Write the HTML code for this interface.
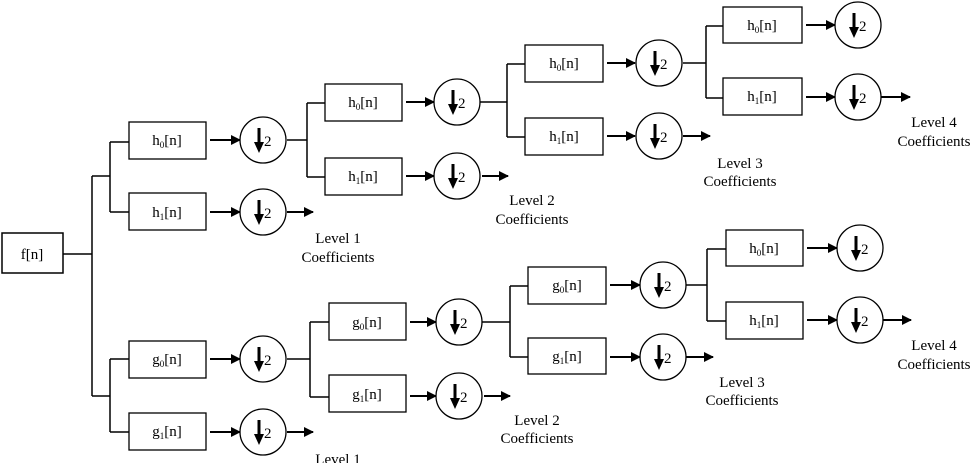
<!DOCTYPE html>
<html><head><meta charset="utf-8"><style>
html,body{margin:0;padding:0;background:#fff;}
svg{display:block;}
text{font-family:"Liberation Serif",serif;font-size:15px;fill:#000;}
</style></head><body>
<svg width="974" height="463" viewBox="0 0 974 463" xmlns="http://www.w3.org/2000/svg">
<defs>
<marker id="a" markerWidth="10" markerHeight="10" refX="9" refY="5" orient="auto" markerUnits="userSpaceOnUse">
<path d="M0,0 L10,5 L0,10 Z" fill="#000"/></marker>
<g id="dn"><circle r="23" fill="#fff" stroke="#000" stroke-width="1.3"/><path d="M-4,-12 V5" stroke="#000" stroke-width="3"/><path d="M-9,2 L-4,13 L1,2 Z" fill="#000"/><text x="1" y="6" font-size="16">2</text></g>
</defs>
<g stroke="#000" stroke-width="1.5" fill="none">
<rect x="2" y="233" width="61" height="40" fill="#fff"/>
<path d="M63,254H92 M92,176V396 M92,176H110 M110,142V212 M92,396H110 M110,359V432"/>
<path d="M110,142H129 M110,212H129 M110,359H129 M110,432H129"/>
</g>
<g stroke="#000" stroke-width="1.3" fill="#fff">
<rect x="129" y="122" width="77" height="37"/><rect x="129" y="193" width="77" height="37"/>
<rect x="129" y="341" width="77" height="37"/><rect x="129" y="413" width="77" height="37"/>
<rect x="325" y="84" width="77" height="37"/><rect x="325" y="158" width="77" height="37"/>
<rect x="329" y="303" width="77" height="37"/><rect x="329" y="375" width="77" height="37"/>
<rect x="525" y="45" width="78" height="37"/><rect x="525" y="118" width="78" height="37"/>
<rect x="528" y="267" width="78" height="37"/><rect x="528" y="338" width="78" height="36"/>
<rect x="723" y="7" width="79" height="36"/><rect x="723" y="78" width="79" height="37"/>
<rect x="726" y="230" width="77" height="36"/><rect x="726" y="302" width="77" height="37"/>
</g>
<g stroke="#000" stroke-width="2" fill="none" marker-end="url(#a)">
<path d="M210,140H240"/><path d="M210,212H240"/><path d="M210,359H240"/><path d="M210,432H240"/>
<path d="M287,212H313"/><path d="M287,432H313"/>
<path d="M406,102H434"/><path d="M406,176H434"/><path d="M482,176H508"/>
<path d="M410,322H436"/><path d="M410,396H436"/><path d="M484,396H510"/>
<path d="M607,63H635"/><path d="M607,136H635"/><path d="M683,136H710"/>
<path d="M610,285H640"/><path d="M610,357H640"/><path d="M686,357H713"/>
<path d="M806,25H835"/><path d="M806,97H835"/><path d="M881,97H910"/>
<path d="M807,248H837"/><path d="M807,320H837"/><path d="M883,320H911"/>
</g>
<g stroke="#000" stroke-width="1.5" fill="none">
<path d="M287,140H307 M307,103V177 M307,103H325 M307,177H325"/>
<path d="M287,359H310 M310,322V397 M310,322H329 M310,397H329"/>
<path d="M480,102H507 M507,64V137 M507,64H525 M507,137H525"/>
<path d="M482,322H510 M510,286V357 M510,286H528 M510,357H528"/>
<path d="M683,63H706 M706,26V98 M706,26H723 M706,98H723"/>
<path d="M686,285H707 M707,249V321 M707,249H726 M707,321H726"/>
</g>
<use href="#dn" x="263" y="140"/><use href="#dn" x="263" y="212"/>
<use href="#dn" x="263" y="359"/><use href="#dn" x="263" y="432"/>
<use href="#dn" x="457" y="102"/><use href="#dn" x="457" y="176"/>
<use href="#dn" x="459" y="322"/><use href="#dn" x="459" y="396"/>
<use href="#dn" x="659" y="63"/><use href="#dn" x="659" y="136"/>
<use href="#dn" x="663" y="285"/><use href="#dn" x="663" y="357"/>
<use href="#dn" x="858" y="25"/><use href="#dn" x="858" y="97"/>
<use href="#dn" x="860" y="248"/><use href="#dn" x="860" y="320"/>
<g text-anchor="middle">
<text x="32" y="259">f[n]</text>
<text x="167" y="145">h<tspan font-size="9" dy="3">0</tspan><tspan dy="-3">[n]</tspan></text>
<text x="167" y="217">h<tspan font-size="9" dy="3">1</tspan><tspan dy="-3">[n]</tspan></text>
<text x="167" y="364">g<tspan font-size="9" dy="3">0</tspan><tspan dy="-3">[n]</tspan></text>
<text x="167" y="436">g<tspan font-size="9" dy="3">1</tspan><tspan dy="-3">[n]</tspan></text>
<text x="363" y="107">h<tspan font-size="9" dy="3">0</tspan><tspan dy="-3">[n]</tspan></text>
<text x="363" y="181">h<tspan font-size="9" dy="3">1</tspan><tspan dy="-3">[n]</tspan></text>
<text x="367" y="327">g<tspan font-size="9" dy="3">0</tspan><tspan dy="-3">[n]</tspan></text>
<text x="367" y="399">g<tspan font-size="9" dy="3">1</tspan><tspan dy="-3">[n]</tspan></text>
<text x="564" y="68">h<tspan font-size="9" dy="3">0</tspan><tspan dy="-3">[n]</tspan></text>
<text x="564" y="141">h<tspan font-size="9" dy="3">1</tspan><tspan dy="-3">[n]</tspan></text>
<text x="567" y="290">g<tspan font-size="9" dy="3">0</tspan><tspan dy="-3">[n]</tspan></text>
<text x="567" y="361">g<tspan font-size="9" dy="3">1</tspan><tspan dy="-3">[n]</tspan></text>
<text x="762" y="30">h<tspan font-size="9" dy="3">0</tspan><tspan dy="-3">[n]</tspan></text>
<text x="762" y="101">h<tspan font-size="9" dy="3">1</tspan><tspan dy="-3">[n]</tspan></text>
<text x="764" y="253">h<tspan font-size="9" dy="3">0</tspan><tspan dy="-3">[n]</tspan></text>
<text x="764" y="325">h<tspan font-size="9" dy="3">1</tspan><tspan dy="-3">[n]</tspan></text>
<text x="338" y="243">Level 1</text><text x="338" y="262">Coefficients</text>
<text x="338" y="464">Level 1</text>
<text x="532" y="205">Level 2</text><text x="532" y="224">Coefficients</text>
<text x="537" y="425">Level 2</text><text x="537" y="443">Coefficients</text>
<text x="740" y="168">Level 3</text><text x="740" y="186">Coefficients</text>
<text x="742" y="387">Level 3</text><text x="742" y="405">Coefficients</text>
<text x="934" y="127">Level 4</text><text x="934" y="146">Coefficients</text>
<text x="934" y="350">Level 4</text><text x="934" y="369">Coefficients</text>
</g>
</svg>
</body></html>
